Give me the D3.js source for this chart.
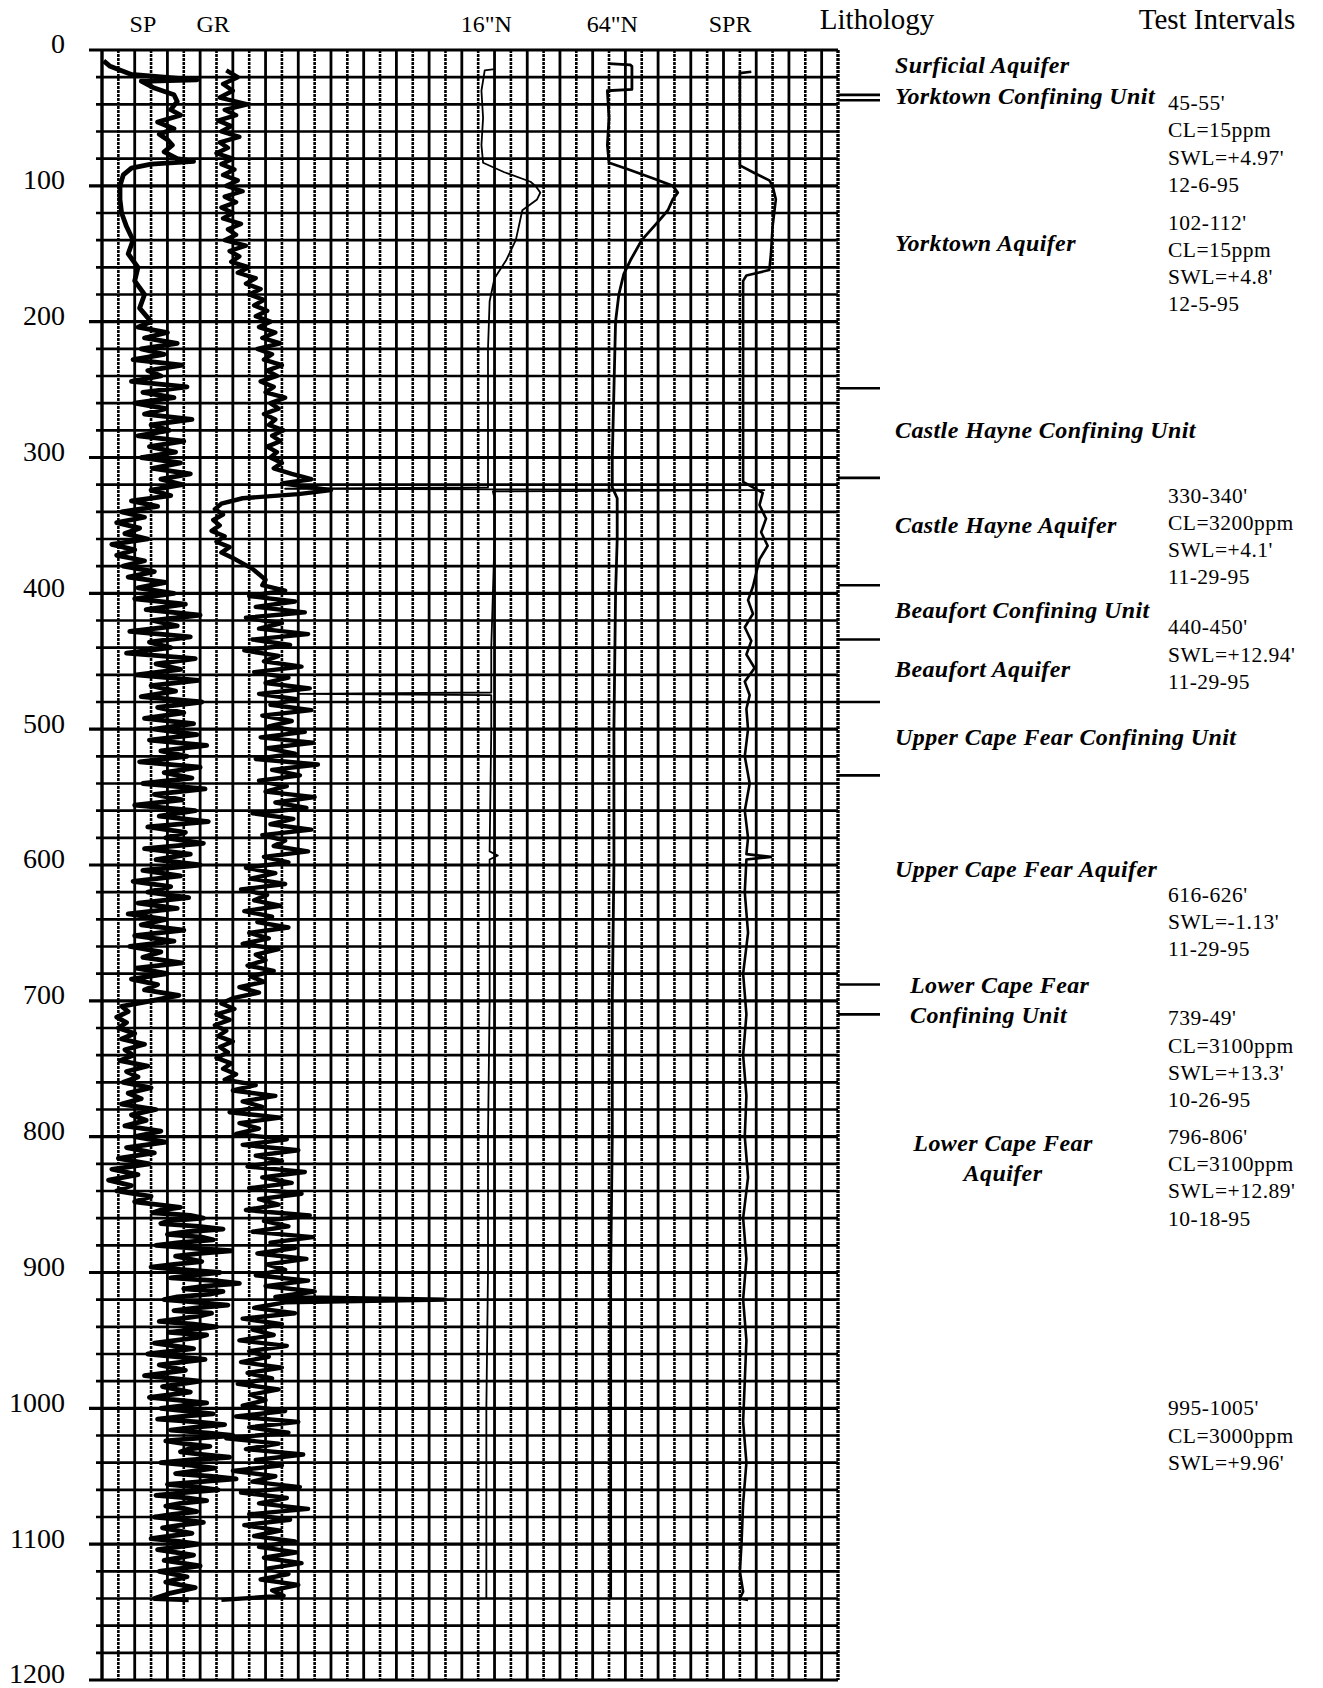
<!DOCTYPE html>
<html>
<head>
<meta charset="utf-8">
<script src="https://cdn.jsdelivr.net/npm/d3@7/dist/d3.min.js"></script>
<style>
  body { margin: 0; background: #fff; }
  svg { display: block; font-family: "Liberation Serif", "DejaVu Serif", serif; }
</style>
</head>
<body>
<script>
// log curves: [depth ft, reading in chart divisions]
const spLog = [[8,0.1],[12,0.5],[18,1.8],[22,5.8],[23,2.4],[28,3.2],[33,4.4],[38,4.6],[44,4.2],[48,4.8],[53,3.4],[58,4.4],[62,3.5],[66,4.0],[70,4.3],[75,3.8],[80,4.6],[82,5.6],[84,3.0],[87,1.8],[92,1.3],[100,1.1],[110,1.1],[120,1.2],
  [130,1.5],[140,1.9],[150,1.6],[160,2.2],[170,2.0],[180,2.6],[190,2.3],[200,3.0],
  [204,2.2],[208,4.0],[212,2.6],[216,4.6],[220,2.4],[224,3.8],[228,1.9],[232,4.9],[236,2.8],[240,3.6],[244,1.8],[248,5.2],[252,2.5],[256,4.4],[260,2.0],[264,3.9],[268,2.6],[272,5.5],[276,3.0],[280,4.1],[284,2.2],[288,5.0],[292,2.9],[296,4.5],[300,2.4],[304,4.8],[308,3.1],[312,5.4],[316,3.6],[320,4.9],
  [324,3.0],[328,4.2],[332,1.8],[336,3.4],[340,1.2],[344,2.6],[348,0.9],[352,2.3],[356,1.4],[360,2.8],[364,0.6],[368,2.0],[372,0.9],[376,2.6],[380,1.3],[384,3.2],[388,1.6],[392,3.9],[396,2.2],[400,4.4],
  [404,2.0],[408,5.1],[412,2.7],[416,6.0],[420,3.1],[424,4.6],[428,1.7],[432,5.4],[436,2.9],[440,4.2],[444,1.5],[448,5.7],[452,3.3],[456,4.8],[460,2.1],[464,5.9],[468,3.0],[472,4.5],[476,2.4],[480,6.1],[484,3.4],[488,5.0],[492,2.6],[496,5.6],[500,3.2],
  [504,5.8],[508,2.9],[512,6.4],[516,3.6],[520,5.2],[524,2.3],[528,6.0],[532,3.8],[536,5.5],[540,2.5],[544,6.3],[548,3.2],[552,4.9],[556,2.0],[560,5.7],[564,3.5],[568,6.5],[572,2.8],[576,5.1],[580,3.9],[584,6.2],[588,2.6],[592,5.4],[596,3.3],[600,6.0],
  [604,2.5],[608,4.8],[612,1.9],[616,4.2],[620,2.8],[624,5.3],[628,2.2],[632,4.6],[636,1.6],[640,3.9],[644,2.4],[648,5.0],[652,2.0],[656,4.4],[660,1.7],[664,3.6],[668,2.5],[672,4.9],[676,2.1],[680,4.0],[684,1.8],[688,3.4],[692,2.6],[696,4.7],[700,3.0],
  [704,1.2],[708,1.6],[712,0.9],[716,1.5],[720,1.0],[724,2.0],[728,1.2],[732,2.6],[736,1.4],[740,1.9],[744,1.1],[748,2.8],[752,1.5],[756,2.2],[760,1.3],[764,3.0],[768,1.6],[772,2.4],[776,1.2],[780,3.3],[784,1.8],[788,2.7],[792,1.4],[796,3.6],[800,2.0],
  [804,3.9],[808,1.5],[812,3.2],[816,1.0],[820,2.9],[824,0.6],[828,2.2],[832,0.4],[836,1.8],[840,0.9],[844,3.0],[848,2.0],
  [852,4.8],[854,3.6],[856,3.1],[858,5.4],[860,6.2],[862,4.1],[864,3.6],[866,5.9],[868,7.4],[870,5.2],[872,4.0],[874,6.1],[876,6.8],[878,4.7],[880,3.3],[882,5.5],[884,7.9],[886,6.0],[888,4.5],[890,5.3],[892,6.1],[894,4.4],[896,3.0],[898,5.1],[900,7.2],
  [902,5.6],[904,4.2],[906,6.9],[908,8.4],[910,6.3],[912,5.0],[914,7.4],[916,6.6],[918,4.6],[920,3.8],[922,5.9],[924,7.7],[926,5.8],[928,4.4],[930,6.7],[932,6.0],[934,4.8],[936,3.5],[938,5.6],[940,7.0],[942,5.5],[944,4.1],[946,6.4],[948,5.8],
  [952,3.2],[956,5.6],[960,2.8],[964,6.3],[968,3.5],[972,5.1],[976,2.6],[980,6.0],[984,3.7],[988,5.4],[992,2.9],[996,6.4],[1000,3.6],
  [1002,5.2],[1004,6.8],[1006,4.9],[1008,3.4],[1010,5.8],[1012,7.5],[1014,5.6],[1016,4.2],[1018,6.4],[1020,8.0],[1022,5.9],[1024,3.9],[1026,5.0],[1028,6.6],[1030,5.3],[1032,4.8],[1034,6.2],[1036,7.8],[1038,5.4],[1040,3.6],[1042,5.5],[1044,6.9],[1046,5.7],[1048,4.5],[1050,6.6],[1052,8.2],[1054,6.1],[1056,4.0],[1058,5.8],[1060,7.1],[1062,5.0],[1064,3.3],[1066,5.2],[1068,6.4],[1070,4.8],[1072,3.9],[1074,5.1],[1076,5.8],[1078,4.3],[1080,3.2],[1082,4.9],[1084,6.2],[1086,4.8],[1088,3.7],[1090,4.6],[1092,5.5],[1094,4.1],[1096,3.0],[1098,4.7],[1100,5.9],
  [1104,3.4],[1108,5.6],[1112,3.8],[1116,6.0],[1120,3.5],[1124,5.2],[1128,3.9],[1132,5.7],[1136,4.2],[1140,3.2],[1141,5.3]];

const grLog = [[15,7.6],[20,8.3],[25,7.4],[30,8.0],[35,7.2],[40,8.9],[44,7.5],[48,8.2],[52,7.1],[56,7.9],[60,7.3],[64,8.4],[68,7.2],[72,7.7],[76,7.0],[80,8.0],[84,7.3],[88,8.1],[92,7.4],[96,8.3],[100,7.6],
  [104,8.6],[108,7.5],[112,8.2],[116,7.3],[120,8.0],[124,7.4],[128,8.5],[132,7.7],[136,8.2],[140,7.5],[144,8.8],[148,7.8],[152,8.4],[156,7.9],[160,9.0],[164,8.3],[168,9.4],[172,8.8],[176,9.7],[180,9.0],[184,9.9],[188,9.3],[192,10.1],[196,9.4],[200,10.3],
  [204,9.6],[208,10.6],[212,9.8],[216,10.9],[220,9.5],[224,10.4],[228,9.9],[232,11.0],[236,10.1],[240,10.7],[244,9.7],[248,10.5],[252,10.0],[256,11.2],[260,10.3],[264,10.8],[268,9.9],[272,10.6],[276,10.2],[280,11.1],[284,10.4],[288,10.9],[292,10.1],[296,10.7],[300,10.3],[304,11.0],[308,10.5],[312,11.6],[316,12.8],[319,11.0],
  [324,14.0],[327,12.0],[330,8.6],[334,7.3],[338,6.9],[342,7.4],[346,6.8],[350,7.2],[354,6.7],[358,7.5],[362,7.0],[366,7.8],[370,7.3],[374,8.0],[378,8.6],[382,9.2],[386,9.6],[390,10.0],[394,9.8],[398,11.2],
  [402,9.0],[406,11.8],[410,9.4],[414,12.4],[418,8.8],[422,11.0],[426,9.6],[430,12.6],[434,9.2],[438,11.5],[442,8.7],[446,10.8],[450,9.9],[454,12.2],[458,9.3],[462,11.4],[466,10.0],[470,12.7],[474,9.6],[478,11.9],[482,10.3],[486,12.8],[490,9.8],[494,11.6],[498,10.2],
  [502,12.4],[506,9.7],[510,12.9],[514,10.1],[518,11.8],[522,9.4],[526,13.2],[530,10.4],[534,12.1],[538,9.6],[542,11.3],[546,10.0],[550,13.0],[554,10.6],[558,12.5],[562,9.2],[566,11.7],[570,10.3],[574,12.8],[578,9.8],[582,11.2],[586,10.5],[590,12.6],[594,9.9],[598,11.4],
  [602,8.8],[606,10.6],[610,9.1],[614,11.2],[618,8.5],[622,10.1],[626,9.3],[630,10.9],[634,8.7],[638,10.4],[642,9.5],[646,11.4],[650,9.0],[654,10.2],[658,8.6],[662,10.8],[666,9.4],[670,10.0],[674,8.9],[678,10.5],[682,9.1],[686,9.9],[690,8.4],[694,9.6],[698,8.0],
  [702,7.3],[706,8.1],[710,7.0],[714,7.8],[718,6.9],[722,7.6],[726,7.1],[730,8.0],[734,7.2],[738,7.7],[742,7.0],[746,7.9],[750,7.4],[754,8.2],[758,7.5],
  [762,9.4],[766,8.0],[770,10.6],[774,8.6],[778,9.8],[782,7.8],[786,10.9],[790,8.4],[794,9.6],[798,8.2],
  [802,11.3],[806,8.6],[810,12.0],[814,9.4],[818,11.0],[822,8.9],[826,12.4],[830,9.8],[834,11.6],[838,9.0],[842,12.2],[846,9.6],[850,10.8],[854,8.8],[858,12.7],[862,9.9],[866,11.4],[870,9.2],[874,12.9],[878,10.3],[882,11.8],[886,9.5],[890,12.5],[894,10.1],[898,11.2],
  [902,9.4],[906,12.6],[910,10.0],[914,13.0],[918,10.6],[920,21.0],[922,11.2],[926,9.3],[930,11.8],[934,8.6],[938,11.0],[942,9.2],[946,10.5],[950,8.4],[954,11.3],[958,9.0],[962,10.2],[966,8.5],[970,11.0],[974,8.9],[978,10.4],[982,8.3],[986,10.8],[990,9.1],[994,10.0],[998,8.6],
  [1002,11.2],[1006,8.2],[1010,12.0],[1014,9.0],[1018,11.4],[1022,7.6],[1026,10.8],[1030,8.8],[1034,12.3],[1038,9.4],[1042,11.0],[1046,8.0],[1050,10.6],[1054,9.2],[1058,12.1],[1062,8.5],[1066,11.3],[1070,9.6],[1074,12.6],[1078,9.0],[1082,11.5],[1086,8.7],[1090,10.9],[1094,9.3],[1098,11.8],
  [1102,9.6],[1106,11.9],[1110,9.9],[1114,12.2],[1118,10.1],[1122,11.4],[1126,9.7],[1130,12.0],[1134,10.4],[1138,11.1],[1141,7.3]];

const n16Log = [[14,24.0],[15,23.4],[30,23.2],[50,23.3],[70,23.2],[83,23.3],[90,24.6],[97,26.2],[100,26.5],[105,26.8],[110,26.6],[118,25.7],[140,25.3],[155,24.7],[168,24.0],[185,23.7],[220,23.6],[260,23.6],[300,23.6],[322,23.6],
  [323,11.2],[324,40.5],[325,23.9],[330,24.0],[360,24.0],[400,23.9],[440,23.8],[473,23.8],[474,12.0],[475,23.8],[500,23.8],[590,23.7],[593,24.2],[596,23.7],[700,23.7],[800,23.6],[900,23.6],[1000,23.5],[1100,23.5],[1140,23.5]];

const n64Log = [[10,31.0],[11,32.3],[12,32.4],[29,32.4],[30,30.9],[50,31.0],[70,30.9],[83,31.0],[88,32.2],[95,33.8],[100,34.9],[105,35.2],[110,34.9],[118,34.6],[125,34.1],[140,33.0],[155,32.3],[165,31.9],[180,31.6],[200,31.4],[250,31.3],[300,31.2],[322,31.2],
  [330,31.5],[360,31.5],[400,31.4],[500,31.3],[600,31.3],[700,31.2],[800,31.2],[900,31.1],[1000,31.1],[1100,31.1],[1140,31.1]];

const sprLog = [[16,39.7],[17,39.0],[50,39.0],[85,39.0],[90,39.8],[96,40.8],[100,41.0],[110,41.2],[130,41.0],[150,40.9],[162,40.8],[166,39.4],[170,39.2],[250,39.2],[318,39.2],
  [326,40.4],[335,40.2],[345,40.6],[355,40.3],[365,40.7],[375,40.2],[385,40.0],[395,39.8],[405,39.5],[415,39.8],[425,39.3],[435,39.7],[445,39.4],[455,39.9],[465,39.3],[475,39.6],[485,39.4],[500,39.5],[520,39.3],[540,39.6],[560,39.3],[580,39.5],[592,39.4],[594,40.9],[596,39.4],
  [620,39.3],[650,39.5],[680,39.2],[710,39.4],[740,39.2],[770,39.4],[800,39.3],[830,39.5],[860,39.2],[890,39.4],[920,39.2],[950,39.4],[980,39.3],[1010,39.2],[1040,39.4],[1070,39.2],[1100,39.1],[1120,39.0],[1135,39.2],[1140,39.0],[1141,39.5]];

const trackNames = ["SP", "GR", "16\"N", "64\"N", "SPR"];
const depthTicks = d3.range(0, 1201, 100);
const contactDepths = [33, 37, 249, 315, 394, 434, 480, 534, 688, 710];

const unitNames = ["Surficial Aquifer", "Yorktown Confining Unit", "Yorktown Aquifer", "Castle Hayne Confining Unit",
  "Castle Hayne Aquifer", "Beaufort Confining Unit", "Beaufort Aquifer", "Upper Cape Fear Confining Unit",
  "Upper Cape Fear Aquifer", "Lower Cape Fear|Confining Unit", "Lower Cape Fear|Aquifer"];
const unitDepths = [11, 34, 142, 280, 350, 412, 456, 506, 603, 688, 805];

const testDepths = [39, 127, 328, 425, 622, 713, 800, 1000];
const testNotes = [
  ["45-55'", "CL=15ppm", "SWL=+4.97'", "12-6-95"],
  ["102-112'", "CL=15ppm", "SWL=+4.8'", "12-5-95"],
  ["330-340'", "CL=3200ppm", "SWL=+4.1'", "11-29-95"],
  ["440-450'", "SWL=+12.94'", "11-29-95"],
  ["616-626'", "SWL=-1.13'", "11-29-95"],
  ["739-49'", "CL=3100ppm", "SWL=+13.3'", "10-26-95"],
  ["796-806'", "CL=3100ppm", "SWL=+12.89'", "10-18-95"],
  ["995-1005'", "CL=3000ppm", "SWL=+9.96'"]
];

const W = 1323, H = 1688;
const y = d3.scaleLinear().domain([0, 1200]).range([50, 1680]);
const x = d3.scaleLinear().domain([0, 45]).range([102, 838]);

const svg = d3.select("body").append("svg")
  .attr("width", W).attr("height", H);

svg.append("rect").attr("width", W).attr("height", H).attr("fill", "#fff");

// grid
const grid = svg.append("g").attr("class", "grid");
grid.selectAll(".vline")
  .data(d3.range(0, 46))
  .enter().append("line")
  .attr("class", "vline")
  .attr("x1", d => x(d)).attr("x2", d => x(d))
  .attr("y1", y(0)).attr("y2", y(1200))
  .attr("stroke", "#000")
  .attr("stroke-width", d => (d === 0 || d === 45) ? 3.4 : (d % 2 === 0 ? 2.8 : 2.6))
  .attr("stroke-dasharray", d => (d % 2 === 1) ? "3,1" : null);

grid.selectAll(".hline")
  .data(d3.range(0, 1201, 20))
  .enter().append("line")
  .attr("class", "hline")
  .attr("x1", d => d % 100 === 0 ? 89 : 96)
  .attr("x2", x(45))
  .attr("y1", d => y(d)).attr("y2", d => y(d))
  .attr("stroke", "#000")
  .attr("stroke-width", d => d % 100 === 0 ? 3.2 : 2.6);

// depth labels
const yAxis = d3.axisLeft(y).tickValues(depthTicks).tickSize(0).tickPadding(0).tickFormat(d3.format("d"));
svg.append("g")
  .attr("transform", "translate(65,0)")
  .call(yAxis)
  .call(g => g.select(".domain").remove())
  .selectAll("text")
  .attr("y", -6)
  .attr("font-family", "Liberation Serif")
  .style("font-size", "28px")
  .attr("fill", "#000");

// curves
const line = d3.line().x(d => x(d[1])).y(d => y(d[0]));
const curves = [
  {data: spLog, w: 4.8},
  {data: grLog, w: 4.4},
  {data: n16Log, w: 1.8},
  {data: n64Log, w: 2.8},
  {data: sprLog, w: 2.6}
];
svg.append("g").selectAll("path")
  .data(curves)
  .enter().append("path")
  .attr("d", d => line(d.data))
  .attr("fill", "none")
  .attr("stroke", "#000")
  .attr("stroke-width", d => d.w)
  .attr("stroke-linejoin", "round");

// headers
const headX = [2.5, 6.8, 23.5, 31.2, 38.4];
svg.selectAll(".head")
  .data(trackNames)
  .enter().append("text")
  .attr("class", "head")
  .attr("x", (d, i) => x(headX[i]))
  .attr("y", 32)
  .attr("text-anchor", "middle")
  .style("font-size", "24px")
  .text(d => d);

svg.append("text").attr("x", 877).attr("y", 29).attr("text-anchor", "middle")
  .style("font-size", "29px").text("Lithology");
svg.append("text").attr("x", 1217).attr("y", 29).attr("text-anchor", "middle")
  .style("font-size", "29px").text("Test Intervals");

// lithology contacts
svg.selectAll(".contact")
  .data(contactDepths)
  .enter().append("line")
  .attr("x1", x(45)).attr("x2", 880)
  .attr("y1", d => y(d)).attr("y2", d => y(d))
  .attr("stroke", "#000")
  .attr("stroke-width", 2.6);

// unit names
unitNames.forEach((name, i) => {
  const parts = name.split("|");
  const centred = i === unitNames.length - 1;
  const tx = centred ? 1003 : (i >= 9 ? 910 : 895);
  const t = svg.append("text")
    .attr("x", tx)
    .attr("y", y(unitDepths[i]) + 8)
    .attr("text-anchor", centred ? "middle" : "start")
    .style("font-size", "24px")
    .style("letter-spacing", "0.4px")
    .style("font-weight", "bold")
    .style("font-style", "italic");
  parts.forEach((p, j) => {
    t.append("tspan").attr("x", tx).attr("dy", j === 0 ? 0 : 30).text(p);
  });
});

// test intervals
testNotes.forEach((lines, i) => {
  const t = svg.append("text")
    .attr("x", 1168)
    .attr("y", y(testDepths[i]) + 7)
    .style("font-size", "21.5px")
    .style("letter-spacing", "0.5px");
  lines.forEach((l, j) => {
    t.append("tspan").attr("x", 1168).attr("dy", j === 0 ? 0 : 27.3).text(l);
  });
});
</script>
</body>
</html>
